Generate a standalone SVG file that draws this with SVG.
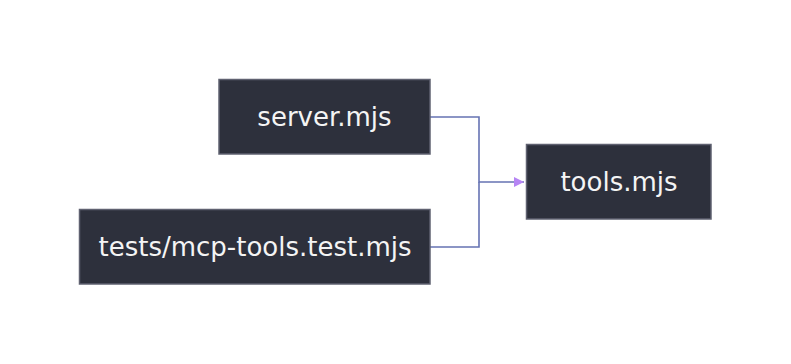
<svg xmlns="http://www.w3.org/2000/svg" width="791" height="364" viewBox="0 0 791 364">
<style>
.node rect{fill:#2d303c;stroke:#5f6170;stroke-width:1.5}
.node text{fill:#f4f4f4;font-family:"DejaVu Sans",sans-serif;font-size:26px;text-anchor:middle;dominant-baseline:central}
.edge{fill:none;stroke:#6673b3;stroke-width:1.6}
</style>
<defs>
<marker id="arr" viewBox="0 0 10 10" refX="10" refY="5" markerWidth="14" markerHeight="10" markerUnits="userSpaceOnUse" orient="auto">
<path d="M0,0 L10,5 L0,10 z" fill="#b685f4"/>
</marker>
</defs>
<rect width="791" height="364" fill="#ffffff"/>
<g id="connectors">
<path class="edge" d="M430,117 H479 V182 H524" marker-end="url(#arr)"/>
<path class="edge" d="M430,247 H479 V182"/>
</g>
<g id="server" class="node"><rect x="219" y="79.5" width="211" height="74.5"/><text x="324.5" y="117">server.mjs</text></g>
<g id="tests" class="node"><rect x="79.5" y="209.5" width="350.5" height="74.5"/><text x="255" y="247">tests/mcp-tools.test.mjs</text></g>
<g id="tools" class="node"><rect x="526.5" y="144.5" width="184.5" height="74.5"/><text x="619" y="182">tools.mjs</text></g>
</svg>
